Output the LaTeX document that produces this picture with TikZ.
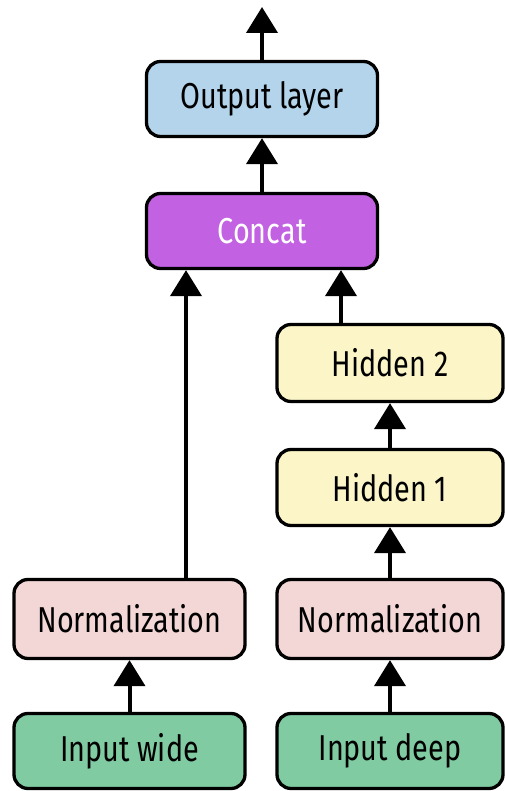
\documentclass[tikz,border=0pt]{standalone}
\usepackage{fontspec}
\setmainfont{Fira Sans}[FakeStretch=0.8]
\usetikzlibrary{arrows.meta}
\definecolor{outblue}{HTML}{B4D4EC}
\definecolor{concatpurple}{HTML}{C261E2}
\definecolor{hidyellow}{HTML}{FBF5C8}
\definecolor{normpink}{HTML}{F3D6D6}
\definecolor{ingreen}{HTML}{80CBA2}
\tikzset{
  layer/.style={draw=black, line width=3.3pt, rounded corners=14pt,
    minimum height=75pt, inner sep=0pt, font=\fontsize{36}{40}\selectfont},
  wideb/.style={layer, minimum width=231pt},
  narrowb/.style={layer, minimum width=226pt},
  arr/.style={line width=4pt, -{Triangle[width=31pt,length=26pt]}}
}
\begin{document}
\begin{tikzpicture}[x=1pt,y=1pt]
\useasboundingbox (0,0) rectangle (504,791);
\node[wideb, fill=outblue] (output) at (262,692) {Output layer};
\node[wideb, fill=concatpurple, text=white] (concat) at (262,560) {Concat};
\node[narrowb, fill=hidyellow, minimum height=77pt] (hid2) at (390,428) {Hidden 2};
\node[narrowb, fill=hidyellow, minimum height=76pt] (hid1) at (390,303.5) {Hidden 1};
\node[wideb, fill=normpink, minimum height=79pt] (normL) at (129.5,172) {Normalization};
\node[narrowb, fill=normpink, minimum height=79pt] (normR) at (390,172) {Normalization};
\node[wideb, fill=ingreen] (inwide) at (129.5,40) {Input wide};
\node[narrowb, fill=ingreen] (indeep) at (390,40) {Input deep};
\coordinate (top) at (262,784);
\draw[arr] (output.north) -- (top);
\draw[arr] (concat.north) -- (output.south);
\draw[arr] ([xshift=56.5pt]normL.north) -- ([xshift=56.5pt]normL.north |- concat.south);
\draw[arr] ([xshift=-49pt]hid2.north) -- ([xshift=-49pt]hid2.north |- concat.south);
\draw[arr] (hid1.north) -- (hid2.south);
\draw[arr] (normR.north) -- (hid1.south);
\draw[arr] (indeep.north) -- (normR.south);
\draw[arr] (inwide.north) -- (normL.south);
\end{tikzpicture}
\end{document}
